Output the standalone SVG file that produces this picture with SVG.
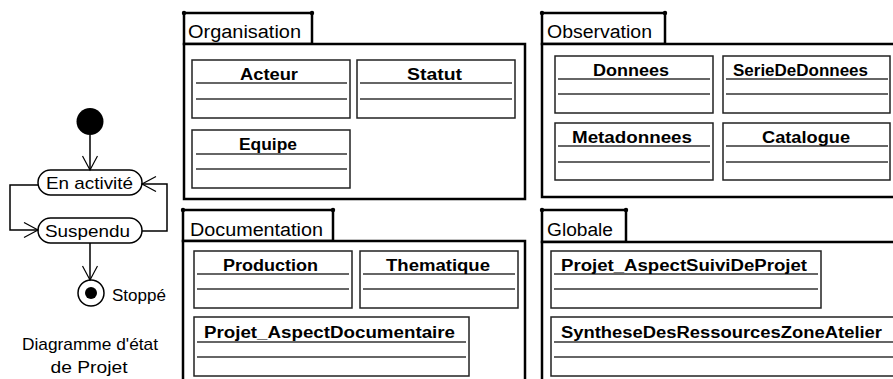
<svg xmlns="http://www.w3.org/2000/svg" width="893" height="379" viewBox="0 0 893 379">
<style>
.pkg{fill:#fff;stroke:#000;stroke-width:2.5}
.dot{fill:#000}
.pl{font-family:"Liberation Sans",Arial,sans-serif;font-size:18px;fill:#000}
.cls{fill:#fff;stroke:#222;stroke-width:1.5}
.div{stroke:#333;stroke-width:1.5}
.cn{font-family:"Liberation Sans",Arial,sans-serif;font-size:16px;font-weight:bold;fill:#000}
.st{fill:#fff;stroke:#000;stroke-width:1.5}
.sl{font-family:"Liberation Sans",Arial,sans-serif;font-size:17px;fill:#000}
.edge{fill:none;stroke:#000;stroke-width:1.5}
</style>
<defs>
<marker id="open" markerUnits="userSpaceOnUse" markerWidth="18" markerHeight="18" refX="15" refY="8" orient="auto">
<path d="M1,0.5 L15,8 L1,15.5" fill="none" stroke="#000" stroke-width="1.2"/>
</marker>
</defs>
<rect width="893" height="379" fill="#fff"/>

<!-- Packages -->
<g id="pkg-organisation">
<rect class="pkg" x="184" y="13" width="128" height="31"/>
<rect class="pkg" x="184" y="44" width="341" height="155"/>
<circle class="dot" cx="184" cy="13" r="2.2"/><circle class="dot" cx="312" cy="13" r="2.2"/>
<text class="pl" x="188" y="38" textLength="113" lengthAdjust="spacingAndGlyphs">Organisation</text>
</g>
<g id="pkg-observation">
<rect class="pkg" x="542" y="13" width="123" height="31"/>
<rect class="pkg" x="542" y="44" width="360" height="153"/>
<circle class="dot" cx="542" cy="13" r="2.2"/><circle class="dot" cx="665" cy="13" r="2.2"/>
<text class="pl" x="547" y="38" textLength="105" lengthAdjust="spacingAndGlyphs">Observation</text>
</g>
<g id="pkg-documentation">
<rect class="pkg" x="183" y="210" width="150" height="31"/>
<rect class="pkg" x="183" y="241" width="342" height="150"/>
<circle class="dot" cx="183" cy="210" r="2.2"/><circle class="dot" cx="333" cy="210" r="2.2"/>
<text class="pl" x="190" y="236" textLength="133" lengthAdjust="spacingAndGlyphs">Documentation</text>
</g>
<g id="pkg-globale">
<rect class="pkg" x="542" y="210" width="84" height="32"/>
<rect class="pkg" x="542" y="242" width="360" height="150"/>
<circle class="dot" cx="542" cy="210" r="2.2"/><circle class="dot" cx="626" cy="210" r="2.2"/>
<text class="pl" x="547" y="236" textLength="66" lengthAdjust="spacingAndGlyphs">Globale</text>
</g>

<!-- Classes -->
<g id="cls-acteur">
<rect class="cls" x="192" y="60" width="158" height="58"/>
<line class="div" x1="196" y1="83" x2="347" y2="83"/><line class="div" x1="196" y1="99" x2="347" y2="99"/>
<text class="cn" x="240" y="80" textLength="58" lengthAdjust="spacingAndGlyphs">Acteur</text>
</g>
<g id="cls-statut">
<rect class="cls" x="357" y="60" width="158" height="58"/>
<line class="div" x1="360" y1="83" x2="512" y2="83"/><line class="div" x1="360" y1="99" x2="512" y2="99"/>
<text class="cn" x="407" y="80" textLength="55" lengthAdjust="spacingAndGlyphs">Statut</text>
</g>
<g id="cls-equipe">
<rect class="cls" x="192" y="130" width="158" height="58"/>
<line class="div" x1="196" y1="154" x2="347" y2="154"/><line class="div" x1="196" y1="169" x2="347" y2="169"/>
<text class="cn" x="239" y="150" textLength="58" lengthAdjust="spacingAndGlyphs">Equipe</text>
</g>
<g id="cls-donnees">
<rect class="cls" x="555" y="56" width="158" height="57"/>
<line class="div" x1="558" y1="79" x2="710" y2="79"/><line class="div" x1="558" y1="94" x2="710" y2="94"/>
<text class="cn" x="593" y="76" textLength="76" lengthAdjust="spacingAndGlyphs">Donnees</text>
</g>
<g id="cls-seriededonnees">
<rect class="cls" x="723" y="56" width="167" height="57"/>
<line class="div" x1="726" y1="79" x2="888" y2="79"/><line class="div" x1="726" y1="94" x2="888" y2="94"/>
<text class="cn" x="733" y="76" textLength="135" lengthAdjust="spacingAndGlyphs">SerieDeDonnees</text>
</g>
<g id="cls-metadonnees">
<rect class="cls" x="555" y="123" width="158" height="57"/>
<line class="div" x1="558" y1="146" x2="710" y2="146"/><line class="div" x1="558" y1="162" x2="710" y2="162"/>
<text class="cn" x="572" y="143" textLength="120" lengthAdjust="spacingAndGlyphs">Metadonnees</text>
</g>
<g id="cls-catalogue">
<rect class="cls" x="723" y="123" width="167" height="57"/>
<line class="div" x1="726" y1="146" x2="888" y2="146"/><line class="div" x1="726" y1="162" x2="888" y2="162"/>
<text class="cn" x="762" y="143" textLength="88" lengthAdjust="spacingAndGlyphs">Catalogue</text>
</g>
<g id="cls-production">
<rect class="cls" x="194" y="251" width="158" height="57"/>
<line class="div" x1="197" y1="274" x2="349" y2="274"/><line class="div" x1="197" y1="289" x2="349" y2="289"/>
<text class="cn" x="223" y="271" textLength="95" lengthAdjust="spacingAndGlyphs">Production</text>
</g>
<g id="cls-thematique">
<rect class="cls" x="360" y="251" width="158" height="57"/>
<line class="div" x1="363" y1="274" x2="515" y2="274"/><line class="div" x1="363" y1="289" x2="515" y2="289"/>
<text class="cn" x="386" y="271" textLength="104" lengthAdjust="spacingAndGlyphs">Thematique</text>
</g>
<g id="cls-projet-aspectdocumentaire">
<rect class="cls" x="194" y="317" width="275" height="59"/>
<line class="div" x1="197" y1="342" x2="466" y2="342"/><line class="div" x1="197" y1="357" x2="466" y2="357"/>
<text class="cn" x="204" y="338" textLength="251" lengthAdjust="spacingAndGlyphs">Projet_AspectDocumentaire</text>
</g>
<g id="cls-projet-aspectsuivideprojet">
<rect class="cls" x="551" y="251" width="270" height="57"/>
<line class="div" x1="554" y1="274" x2="818" y2="274"/><line class="div" x1="554" y1="289" x2="818" y2="289"/>
<text class="cn" x="561" y="271" textLength="246" lengthAdjust="spacingAndGlyphs">Projet_AspectSuiviDeProjet</text>
</g>
<g id="cls-synthesedesressourceszoneatelier">
<rect class="cls" x="551" y="317" width="360" height="59"/>
<line class="div" x1="554" y1="342" x2="905" y2="342"/><line class="div" x1="554" y1="357" x2="905" y2="357"/>
<text class="cn" x="561" y="338" textLength="321" lengthAdjust="spacingAndGlyphs">SyntheseDesRessourcesZoneAtelier</text>
</g>

<!-- State diagram -->
<g id="st-initial"><circle cx="90" cy="121.5" r="13.5" fill="#000"/></g>
<g id="st-enactivite">
<rect class="st" x="38" y="170" width="104" height="25" rx="12.5"/>
<text class="sl" x="46" y="189" textLength="87" lengthAdjust="spacingAndGlyphs">En activité</text>
</g>
<g id="st-suspendu">
<rect class="st" x="38" y="218" width="104" height="25" rx="12.5"/>
<text class="sl" x="45" y="237" textLength="85" lengthAdjust="spacingAndGlyphs">Suspendu</text>
</g>
<g id="st-final">
<circle cx="91" cy="293" r="13" fill="#fff" stroke="#000" stroke-width="1.5"/>
<circle cx="91" cy="293" r="6" fill="#000"/>
<text class="sl" x="112" y="301" textLength="54" lengthAdjust="spacingAndGlyphs">Stoppé</text>
</g>
<g id="caption">
<text class="sl" x="90" y="350" text-anchor="middle" textLength="136" lengthAdjust="spacingAndGlyphs">Diagramme d'état</text>
<text class="sl" x="89" y="373" text-anchor="middle" textLength="77" lengthAdjust="spacingAndGlyphs">de Projet</text>
</g>

<g id="connectors">
<path class="edge" d="M90,135 V170" marker-end="url(#open)"/>
<path class="edge" d="M38,185 H10 V230 H38" marker-end="url(#open)"/>
<path class="edge" d="M142,231 H167 V184 H142" marker-end="url(#open)"/>
<path class="edge" d="M90,243 V280" marker-end="url(#open)"/>
</g>
</svg>
